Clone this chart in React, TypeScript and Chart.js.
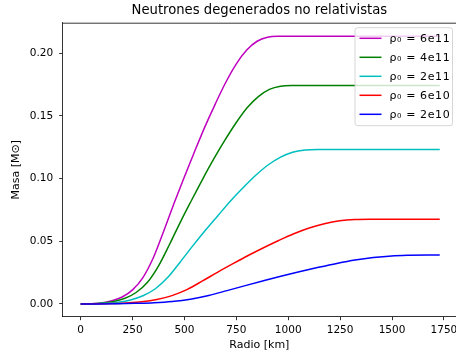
import React, { useEffect, useRef } from 'react';
import { Chart, registerables } from 'chart.js';

Chart.register(...registerables);

const TITLE = 'Neutrones degenerados no relativistas';
const X_LABEL = 'Radio [km]';
const Y_LABEL = 'Masa [M⊙]';

const X_TICKS = [0, 250, 500, 750, 1000, 1250, 1500, 1750];
const Y_TICKS = [0, 0.05, 0.1, 0.15, 0.2];

const SERIES_LABELS = ['ρ₀ = 6e11', 'ρ₀ = 4e11', 'ρ₀ = 2e11', 'ρ₀ = 6e10', 'ρ₀ = 2e10'];
const SERIES_COLORS = ['#bf00bf', '#008000', '#00bfbf', '#ff0000', '#0000ff'];

// radius [km] and enclosed mass [M_sun]
const R_6E11 = [0, 50, 100, 150, 200, 250, 300, 350, 400, 450, 500, 550, 600, 650, 700, 750, 800, 850, 900, 950, 1730];
const M_6E11 = [0, 0.0001, 0.0008, 0.0025, 0.0055, 0.0112, 0.021, 0.0368, 0.058, 0.0802, 0.1015, 0.122, 0.1418, 0.16, 0.177, 0.1915, 0.2025, 0.2095, 0.2127, 0.2134, 0.2134];

const R_4E11 = [0, 53, 107, 160, 214, 267, 321, 374, 428, 481, 535, 588, 642, 695, 749, 802, 856, 909, 963, 1016, 1730];
const M_4E11 = [0, 0.0001, 0.0007, 0.002, 0.0045, 0.0091, 0.0171, 0.03, 0.0474, 0.0655, 0.0829, 0.0996, 0.1158, 0.1306, 0.1445, 0.1564, 0.1653, 0.1711, 0.1737, 0.1742, 0.1742];

const R_2E11 = [0, 60, 120, 180, 240, 300, 360, 420, 480, 540, 600, 661, 721, 781, 841, 901, 961, 1021, 1081, 1141, 1730];
const M_2E11 = [0, 0.0001, 0.0005, 0.0014, 0.0032, 0.0065, 0.0121, 0.0212, 0.0335, 0.0463, 0.0586, 0.0704, 0.0819, 0.0924, 0.1022, 0.1106, 0.1169, 0.121, 0.1228, 0.1232, 0.1232];

const R_6E10 = [0, 73, 147, 220, 294, 367, 440, 514, 587, 661, 734, 807, 881, 954, 1027, 1101, 1174, 1248, 1321, 1394, 1730];
const M_6E10 = [0, 0.00003, 0.00025, 0.0008, 0.0017, 0.0035, 0.0066, 0.0116, 0.0183, 0.0254, 0.0321, 0.0386, 0.0448, 0.0506, 0.056, 0.0606, 0.064, 0.0663, 0.0673, 0.0675, 0.0675];

const R_2E10 = [0, 88, 176, 264, 353, 441, 529, 617, 705, 793, 881, 969, 1058, 1146, 1234, 1322, 1410, 1498, 1586, 1675, 1730];
const M_2E10 = [0, 0.00002, 0.00015, 0.0005, 0.001, 0.002, 0.0038, 0.0067, 0.0106, 0.0146, 0.0185, 0.0223, 0.0259, 0.0292, 0.0323, 0.035, 0.037, 0.0383, 0.0388, 0.039, 0.039];

const RADII = [R_6E11, R_4E11, R_2E11, R_6E10, R_2E10];
const MASSES = [M_6E11, M_4E11, M_2E11, M_6E10, M_2E10];

const FONT = "'DejaVu Sans', sans-serif";

const framePlugin = {
  id: 'frame',
  afterDraw(chart: any) {
    const { ctx, chartArea } = chart;
    ctx.save();
    ctx.strokeStyle = '#000';
    ctx.lineWidth = 0.8;
    ctx.beginPath();
    ctx.moveTo(chartArea.left, chartArea.top + 0.5);
    ctx.lineTo(chartArea.right, chartArea.top + 0.5);
    ctx.stroke();
    ctx.restore();
  },
};

const legendPlugin = {
  id: 'mplLegend',
  afterDraw(chart: any) {
    const { ctx, chartArea } = chart;
    const ds = chart.data.datasets;
    const right = chartArea.right - 3.5;
    const width = 97.5;
    const left = right - width;
    const top = chartArea.top + 5;
    const rowH = 19;
    const height = 98;
    const r = 2.5;
    ctx.save();
    ctx.beginPath();
    ctx.moveTo(left + r, top);
    ctx.lineTo(left + width - r, top);
    ctx.arcTo(left + width, top, left + width, top + r, r);
    ctx.lineTo(left + width, top + height - r);
    ctx.arcTo(left + width, top + height, left + width - r, top + height, r);
    ctx.lineTo(left + r, top + height);
    ctx.arcTo(left, top + height, left, top + height - r, r);
    ctx.lineTo(left, top + r);
    ctx.arcTo(left, top, left + r, top, r);
    ctx.closePath();
    ctx.fillStyle = 'rgba(255,255,255,0.8)';
    ctx.fill();
    ctx.strokeStyle = '#cccccc';
    ctx.lineWidth = 0.8;
    ctx.stroke();
    ctx.font = `11px ${FONT}`;
    ctx.textBaseline = 'middle';
    ctx.textAlign = 'left';
    try {
      (ctx as any).letterSpacing = '0.6px';
    } catch (e) {
      /* ignore */
    }
    ds.forEach((d: any, k: number) => {
      const y = top + 10.6 + k * rowH;
      ctx.strokeStyle = d.borderColor;
      ctx.lineWidth = 1.5;
      ctx.beginPath();
      ctx.moveTo(left + 4.5, y);
      ctx.lineTo(left + 26.5, y);
      ctx.stroke();
      ctx.fillStyle = '#000';
      ctx.fillText(d.label, left + 34.5, y + 0.5);
    });
    ctx.restore();
  },
};

export default function App() {
  const canvasRef = useRef<HTMLCanvasElement | null>(null);

  useEffect(() => {
    const canvas = canvasRef.current;
    if (!canvas) return;
    Chart.defaults.font.family = FONT;
    const datasets = SERIES_LABELS.map((label, i) => ({
      label,
      data: RADII[i].map((x, j) => ({ x, y: MASSES[i][j] })),
      borderColor: SERIES_COLORS[i],
      backgroundColor: SERIES_COLORS[i],
      borderWidth: 1.5,
      pointRadius: 0,
      fill: false,
      cubicInterpolationMode: 'monotone' as const,
      borderJoinStyle: 'round' as const,
      order: SERIES_LABELS.length - 1 - i,
    }));

    const chart = new Chart(canvas, {
      type: 'line',
      data: { datasets },
      options: {
        animation: false,
        responsive: false,
        devicePixelRatio: 1,
        events: [],
        layout: { padding: 0 },
        plugins: {
          legend: { display: false },
          tooltip: { enabled: false },
          title: {
            display: true,
            text: TITLE,
            fullSize: false,
            color: '#000',
            font: { size: 13.2, weight: 'normal', family: FONT },
            padding: { top: 2.9, bottom: 3.96 },
          },
        },
        scales: {
          x: {
            type: 'linear',
            min: -86.5,
            max: 1808.3,
            afterBuildTicks: (s: any) => {
              s.ticks = X_TICKS.map((v) => ({ value: v }));
            },
            afterFit: (s: any) => {
              s.height = 39.3;
              s.paddingLeft = 0;
              s.paddingRight = 0;
            },
            grid: {
              drawOnChartArea: false,
              drawTicks: true,
              tickLength: 3.5,
              tickWidth: 0.8,
              tickColor: '#000',
            },
            border: { display: true, color: '#000', width: 0.8 },
            ticks: {
              color: '#000',
              font: { size: 10.5, family: FONT },
              padding: 3.5,
              maxRotation: 0,
              autoSkip: false,
              callback: (v: any) => String(v),
            },
            title: {
              display: true,
              text: X_LABEL,
              color: '#000',
              font: { size: 11, family: FONT },
              padding: { top: 0, bottom: 4.4 },
            },
          },
          y: {
            type: 'linear',
            min: -0.0102,
            max: 0.2243,
            afterBuildTicks: (s: any) => {
              s.ticks = Y_TICKS.map((v) => ({ value: v }));
            },
            afterFit: (s: any) => {
              s.width = 62.7;
              s.paddingTop = 0;
              s.paddingBottom = 0;
            },
            grid: {
              drawOnChartArea: false,
              drawTicks: true,
              tickLength: 3.5,
              tickWidth: 0.8,
              tickColor: '#000',
            },
            border: { display: true, color: '#000', width: 0.8 },
            ticks: {
              color: '#000',
              font: { size: 10.5, family: FONT },
              padding: 6,
              autoSkip: false,
              callback: (v: any) => Number(v).toFixed(2),
            },
            title: {
              display: true,
              text: Y_LABEL,
              color: '#000',
              font: { size: 11, family: FONT },
              padding: { top: 9.4, bottom: 0 },
            },
          },
        },
      },
      plugins: [framePlugin, legendPlugin],
    });

    return () => chart.destroy();
  }, []);

  return (
    <div style={{ position: 'fixed', left: 0, top: 0, width: 456, height: 356, background: '#fff' }}>
      <canvas ref={canvasRef} width={456} height={356} style={{ display: 'block' }} />
    </div>
  );
}
